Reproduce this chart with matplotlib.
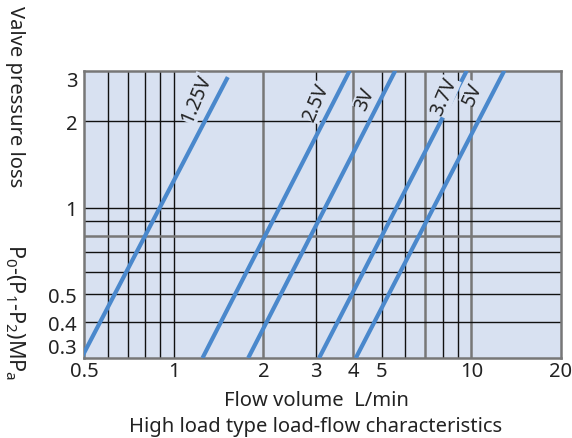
import matplotlib
matplotlib.use("Agg")
import matplotlib.pyplot as plt
from matplotlib.ticker import FixedLocator, FixedFormatter, NullLocator

plt.rcParams['font.family'] = ['Noto Sans', 'DejaVu Sans']
plt.rcParams['mathtext.fontset'] = 'custom'
plt.rcParams['mathtext.rm'] = 'Noto Sans'
plt.rcParams['mathtext.it'] = 'Noto Sans'

# Data: flow (L/min) vs pressure loss (MPa) per voltage
labels = ["1.25V", "2.5V", "3V", "3.7V", "5V"]
flow_125 = [0.49, 1.52]
p_125 = [0.30, 2.85]
flow_25 = [1.25, 3.90]
p_25 = [0.30, 3.00]
flow_3 = [1.78, 5.55]
p_3 = [0.30, 3.00]
flow_37 = [3.08, 9.65]
p_37 = [0.30, 3.00]
flow_5 = [4.09, 12.9]
p_5 = [0.30, 3.00]
label_x = [1.19, 3.02, 4.40, 8.11, 10.08]
label_y = [2.40, 2.33, 2.40, 2.44, 2.50]

xticks = [0.5, 1, 2, 3, 4, 5, 10, 20]
xticklabels = ["0.5", "1", "2", "3", "4", "5", "10", "20"]
yticks = [0.3, 0.4, 0.5, 1, 2, 3]
yticklabels = ["0.3", "0.4", "0.5", "1", "2", "3"]

grid_x_black = [0.6, 0.7, 0.8, 0.9, 1, 3, 5, 6, 8, 9]
grid_x_gray = [2, 4, 7, 10]
grid_y_black = [0.4, 0.5, 0.6, 0.7, 0.9, 1, 2]
grid_y_gray = [0.8]

bg = "#d8e1f1"
blue = "#4a88cc"
tc = "#222222"
fs = 14.5

fig = plt.figure(figsize=(5.72, 4.39), dpi=100)
ax = fig.add_axes([0.1469, 0.1822, 0.9808 - 0.1469, 0.8367 - 0.1822])
ax.set_facecolor(bg)
ax.set_xscale('log')
ax.set_yscale('log')
ax.set_xlim(0.5, 20)
ax.set_ylim(0.3, 3)

for v in grid_x_black:
    ax.axvline(v, color="#111111", lw=1.0, zorder=1)
for v in grid_x_gray:
    ax.axvline(v, color="#777777", lw=1.8, zorder=1)
for v in grid_y_black:
    ax.axhline(v, color="#111111", lw=1.0, zorder=1)
for v in grid_y_gray:
    ax.axhline(v, color="#777777", lw=1.8, zorder=1)

series = [(flow_125, p_125), (flow_25, p_25), (flow_3, p_3), (flow_37, p_37), (flow_5, p_5)]
for (fx, py) in series:
    ax.plot(fx, py, color=blue, lw=3.0, solid_capstyle='butt', zorder=3, clip_on=True)

for lab, lx, ly in zip(labels, label_x, label_y):
    ax.text(lx, ly, lab, rotation=67, ha='center', va='center', fontsize=14,
            color=tc, zorder=4, rotation_mode='anchor',
            bbox=dict(facecolor=bg, edgecolor='none', pad=0.3))

ax.xaxis.set_major_locator(FixedLocator(xticks))
ax.xaxis.set_major_formatter(FixedFormatter(xticklabels))
ax.xaxis.set_minor_locator(NullLocator())
ax.yaxis.set_major_locator(FixedLocator(yticks))
ax.yaxis.set_major_formatter(FixedFormatter(yticklabels))
ax.yaxis.set_minor_locator(NullLocator())
ax.tick_params(axis='both', length=0, labelsize=fs, colors=tc)
ax.tick_params(axis='x', pad=2)
ax.tick_params(axis='y', pad=5)

fig.canvas.draw()
ylabs = ax.get_yticklabels()
ylabs[0].set_verticalalignment('bottom')
ylabs[-1].set_verticalalignment('top')

for s in ax.spines.values():
    s.set_color("#777777")
    s.set_linewidth(1.8)

fig.text(316 / 572, 1 - 401 / 439, "Flow volume  L/min", ha='center', va='center',
         fontsize=fs, color=tc)
fig.text(316 / 572, 1 - 427 / 439, "High load type load-flow characteristics", ha='center', va='center',
         fontsize=fs, color=tc)
fig.text(15 / 572, 1 - 97 / 439, "Valve pressure loss", rotation=-90, ha='center', va='center',
         fontsize=fs, color=tc)
fig.text(15 / 572, 1 - 312 / 439,
         r"P$_\mathregular{0}$-(P$_\mathregular{1}$-P$_\mathregular{2}$)MP$_\mathregular{a}$",
         rotation=-90, ha='center', va='center', fontsize=15.5, color=tc)

fig.savefig("out.png", dpi=100)
